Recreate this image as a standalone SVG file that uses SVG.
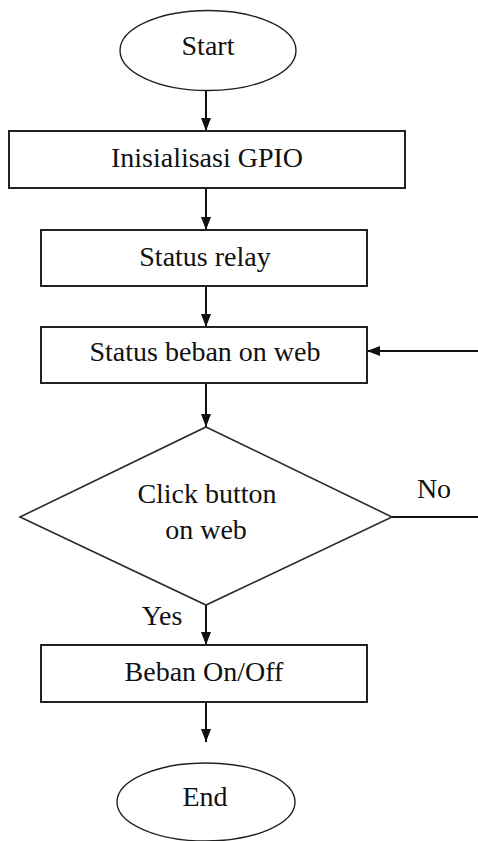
<svg xmlns="http://www.w3.org/2000/svg" width="478" height="841" viewBox="0 0 478 841">
  <style>
    .box { fill: #ffffff; stroke: #222222; stroke-width: 2; }
    .term { fill: #ffffff; stroke: #222222; stroke-width: 1.4; }
    .dec { fill: #ffffff; stroke: #2a2a2a; stroke-width: 1.6; }
    .lbl { font-family: "Liberation Serif", "Times New Roman", serif; font-size: 28px; fill: #111111; text-anchor: middle; }
    .edge { fill: none; stroke: #111111; stroke-width: 2; }
  </style>
  <defs>
    <marker id="arrow" viewBox="0 0 13 10" refX="13" refY="5" markerWidth="13" markerHeight="10" markerUnits="userSpaceOnUse" orient="auto">
      <path d="M0,0 L13,5 L0,10 Z" fill="#111111"/>
    </marker>
  </defs>
  <rect width="478" height="841" fill="#ffffff"/>

  <g id="connectors">
    <line class="edge" x1="206" y1="91" x2="206" y2="131" marker-end="url(#arrow)"/>
    <line class="edge" x1="206" y1="188" x2="206" y2="230" marker-end="url(#arrow)"/>
    <line class="edge" x1="206" y1="286" x2="206" y2="327" marker-end="url(#arrow)"/>
    <line class="edge" x1="206" y1="383" x2="206" y2="427" marker-end="url(#arrow)"/>
    <line class="edge" x1="206" y1="605" x2="206" y2="645" marker-end="url(#arrow)"/>
    <line class="edge" x1="206" y1="702" x2="206" y2="742" marker-end="url(#arrow)"/>
    <line class="edge" x1="392" y1="517" x2="478" y2="517"/>
    <line class="edge" x1="478" y1="351" x2="367" y2="351" marker-end="url(#arrow)"/>
    <text class="lbl" x="434" y="498">No</text>
    <text class="lbl" x="162" y="625">Yes</text>
  </g>

  <g id="start">
    <ellipse class="term" cx="208" cy="50.5" rx="88" ry="40"/>
    <text class="lbl" x="208" y="55">Start</text>
  </g>

  <g id="init-gpio">
    <rect class="box" x="9" y="131" width="396" height="57"/>
    <text class="lbl" x="207" y="167">Inisialisasi GPIO</text>
  </g>

  <g id="status-relay">
    <rect class="box" x="41" y="230" width="326" height="56"/>
    <text class="lbl" x="205" y="266">Status relay</text>
  </g>

  <g id="status-beban">
    <rect class="box" x="41" y="327" width="326" height="56"/>
    <text class="lbl" x="205" y="361">Status beban on web</text>
  </g>

  <g id="click-button">
    <polygon class="dec" points="206,427 392,517 206,605 20,517"/>
    <text class="lbl" x="207" y="503">Click button</text>
    <text class="lbl" x="206" y="539">on web</text>
  </g>

  <g id="beban-onoff">
    <rect class="box" x="41" y="645" width="326" height="57"/>
    <text class="lbl" x="204" y="681">Beban On/Off</text>
  </g>

  <g id="end">
    <ellipse class="term" cx="206" cy="802" rx="89" ry="39"/>
    <text class="lbl" x="205" y="806">End</text>
  </g>
</svg>
